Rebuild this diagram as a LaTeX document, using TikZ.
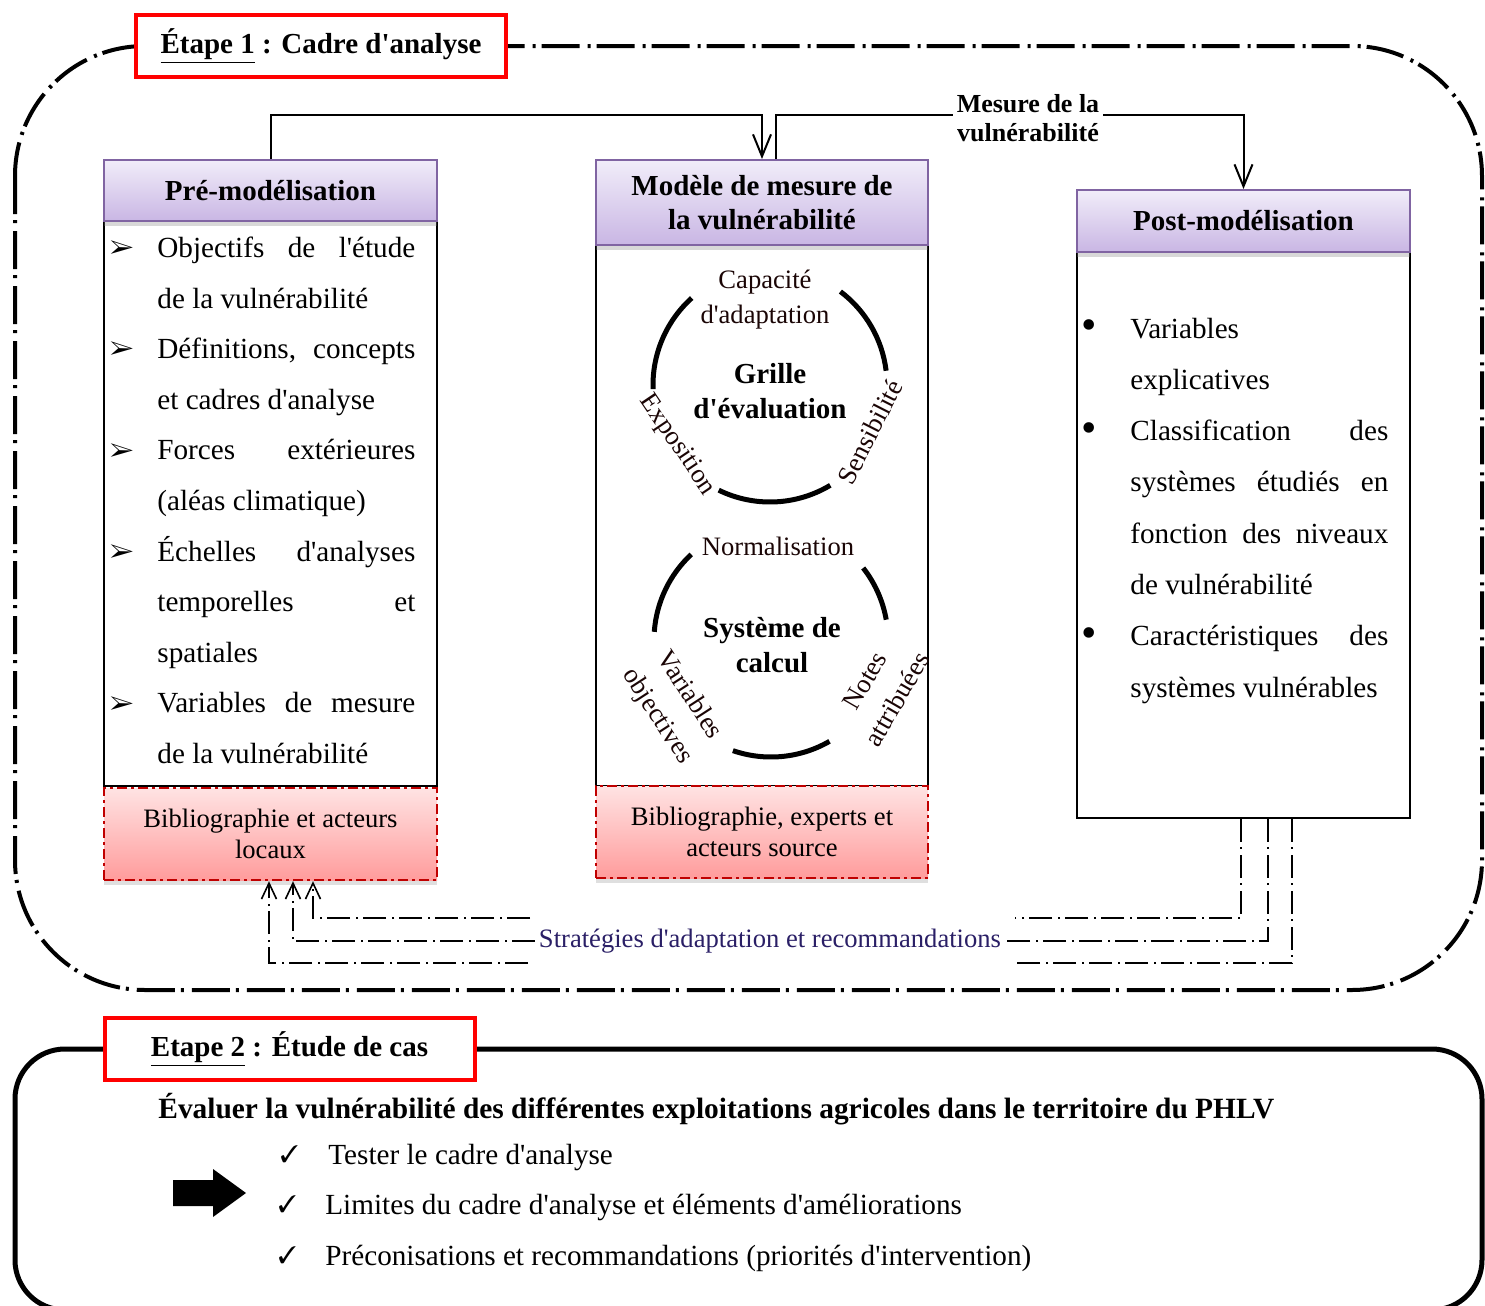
\documentclass[tikz,border=0pt]{standalone}
\usepackage{fontspec}
\setmainfont{Liberation Serif}[Ligatures=TeXOff]
\usepackage{pifont}
\usetikzlibrary{arrows.meta,calc,shadows}
\definecolor{hdtop}{HTML}{F1EDF9}
\definecolor{hdbot}{HTML}{C9B6E4}
\definecolor{hdborder}{HTML}{8064A2}
\definecolor{bibtop}{HTML}{FFE3E3}
\definecolor{bibbot}{HTML}{FF9C9C}
\definecolor{bibborder}{HTML}{C00000}
\definecolor{lbltxt}{HTML}{1A0505}
\definecolor{stratc}{HTML}{2A1F66}
\begin{document}
\begin{tikzpicture}[x=0.5pt,y=0.5pt,
  frameone/.style={line width=2pt, dash pattern=on 19pt off 3pt on 1.5pt off 4pt, rounded corners=65pt},
  frametwo/.style={line width=2.5pt, rounded corners=25pt},
  redlbl/.style={draw=red, line width=2pt, fill=white, inner sep=0pt, minimum width=185pt, minimum height=31pt, font=\bfseries\fontsize{14.5}{17}\selectfont},
  bodybox/.style={draw=black, line width=1pt, inner sep=0pt, fill=white},
  hdr/.style={draw=hdborder, line width=1pt, top color=hdtop, bottom color=hdbot, inner sep=0pt, align=center,
    font=\bfseries\fontsize{14.5}{17}\selectfont, drop shadow={shadow xshift=0pt, shadow yshift=-2.5pt, opacity=0.3}},
  bib/.style={draw=bibborder, line width=1.2pt, dash pattern=on 5pt off 2pt on 1.5pt off 2pt, top color=bibtop, bottom color=bibbot,
    inner sep=0pt, align=center, font=\fontsize{13.3}{15.5}\selectfont, drop shadow={shadow xshift=0pt, shadow yshift=-2.5pt, opacity=0.25}},
  conn/.style={line width=1pt, -{Straight Barb[length=11pt,width=9pt,line width=1pt]}},
  circarc/.style={line width=2.5pt},
  clbl/.style={text=lbltxt, align=center, inner sep=0pt, font=\fontsize{13.3}{17.5}\selectfont},
  cttl/.style={align=center, inner sep=0pt, font=\bfseries\fontsize{14.5}{17.5}\selectfont},
  fb/.style={line width=0.8pt, dash pattern=on 11.5pt off 2.5pt on 1pt off 3pt},
  fbarrow/.style={-{Straight Barb[length=8pt,width=7.5pt,line width=0.8pt]}},
  lst/.style={anchor=base west, inner sep=0pt, font=\fontsize{14.6}{17}\selectfont},
  arrowglyph/.style={anchor=center, inner sep=0pt, font=\fontsize{13}{14}\selectfont},
  bulletglyph/.style={anchor=center, inner sep=0pt, font=\fontsize{22}{24}\selectfont},
  checkglyph/.style={anchor=base west, inner sep=0pt, font=\fontsize{12}{14}\selectfont}
]
\useasboundingbox (0,0) rectangle (1485,-1306);

% ---------- Etape 1 frame ----------
\draw[frameone] (15,-46) rectangle (1482,-990);
\node[redlbl] (e1) at (321,-46) {\underline{Étape 1} : Cadre d'analyse};

% ---------- boxes ----------
\node[bodybox, minimum width=166.5pt, minimum height=282.5pt] (preb) at (270.5,-503.5) {};
\node[hdr, minimum width=166.5pt, minimum height=30.5pt] (pre) at (270.5,-190.5) {Pré-modélisation};
\node[bib, minimum width=166.5pt, minimum height=46pt] (bib1) at (270.5,-834) {Bibliographie et acteurs\\locaux};

\node[bodybox, minimum width=166pt, minimum height=270.5pt] (modb) at (762,-515.5) {};
\node[hdr, minimum width=166pt, minimum height=42.5pt] (mod) at (762,-202.5) {Modèle de mesure de\\la vulnérabilité};
\node[bib, minimum width=166pt, minimum height=46pt] (bib2) at (762,-832) {Bibliographie, experts et\\acteurs source};

\node[bodybox, minimum width=166.5pt, minimum height=283pt] (postb) at (1243.5,-535) {};
\node[hdr, minimum width=166.5pt, minimum height=31pt] (post) at (1243.5,-221) {Post-modélisation};

% ---------- top connectors ----------
\draw[conn] (pre.north) -- ++(0,44) -| (mod.north);
\draw[conn] ($(mod.north)+(14,0)$) -- ++(0,44) -| (post.north);
\node[fill=white, align=center, inner sep=2pt, font=\bfseries\fontsize{13}{14.5}\selectfont] (mes) at (1028,-118) {Mesure de la\\vulnérabilité};

% ---------- left list ----------
\node[arrowglyph] (a1) at (122,-249) {\ding{226}};
\node[lst] (p1) at (157,-257.5) {\makebox[129pt][s]{Objectifs de l'étude}};
\node[lst] (p2) at (157,-308.1) {de la vulnérabilité};
\node[arrowglyph] (a2) at (122,-350.2) {\ding{226}};
\node[lst] (p3) at (157,-358.7) {\makebox[129pt][s]{Définitions, concepts}};
\node[lst] (p4) at (157,-409.3) {et cadres d'analyse};
\node[arrowglyph] (a3) at (122,-451.4) {\ding{226}};
\node[lst] (p5) at (157,-459.9) {\makebox[129pt][s]{Forces extérieures}};
\node[lst] (p6) at (157,-510.5) {(aléas climatique)};
\node[arrowglyph] (a4) at (122,-552.6) {\ding{226}};
\node[lst] (p7) at (157,-561.1) {\makebox[129pt][s]{Échelles d'analyses}};
\node[lst] (p8) at (157,-611.7) {\makebox[129pt][s]{temporelles et}};
\node[lst] (p9) at (157,-662.3) {spatiales};
\node[arrowglyph] (a5) at (122,-704.4) {\ding{226}};
\node[lst] (p10) at (157,-712.9) {\makebox[129pt][s]{Variables de mesure}};
\node[lst] (p11) at (157,-763.5) {de la vulnérabilité};

% ---------- right list ----------
\node[bulletglyph] (b1) at (1089,-330) {•};
\node[lst] (q1) at (1130,-338) {Variables};
\node[lst] (q2) at (1130,-389.3) {explicatives};
\node[bulletglyph] (b2) at (1089,-432.6) {•};
\node[lst] (q3) at (1130,-440.6) {\makebox[129pt][s]{Classification des}};
\node[lst] (q4) at (1130,-491.9) {\makebox[129pt][s]{systèmes étudiés en}};
\node[lst] (q5) at (1130,-543.2) {\makebox[129pt][s]{fonction des niveaux}};
\node[lst] (q6) at (1130,-594.5) {de vulnérabilité};
\node[bulletglyph] (b3) at (1089,-637.8) {•};
\node[lst] (q7) at (1130,-645.8) {\makebox[129pt][s]{Caractéristiques des}};
\node[lst] (q8) at (1130,-697.1) {systèmes vulnérables};

% ---------- circle 1 ----------
\draw[circarc] (770,-385) ++(132:117) arc[start angle=132, end angle=182, radius=117];
\draw[circarc] (770,-385) ++(7:117) arc[start angle=7, end angle=53, radius=117];
\draw[circarc] (770,-385) ++(244:117) arc[start angle=244, end angle=301, radius=117];
\node[clbl] (cap) at (765,-300) {Capacité\\d'adaptation};
\node[clbl, rotate=-56] (expo) at (677,-445) {Exposition};
\node[clbl, rotate=63] (sens) at (870,-432) {Sensibilité};
\node[cttl] (grille) at (770,-391) {Grille\\d'évaluation};

% ---------- circle 2 ----------
\draw[circarc] (771,-640) ++(133:117) arc[start angle=133, end angle=176, radius=117];
\draw[circarc] (771,-640) ++(10:117) arc[start angle=10, end angle=38, radius=117];
\draw[circarc] (771,-640) ++(251:117) arc[start angle=251, end angle=300, radius=117];
\node[clbl] (norm) at (778,-546) {Normalisation};
\node[clbl, rotate=-57, font=\fontsize{13.3}{19}\selectfont] (varo) at (673,-706) {Variables\\objectives};
\node[clbl, rotate=60, font=\fontsize{13.3}{18.5}\selectfont] (notes) at (881,-690) {Notes\\attribuées};
\node[cttl] (syst) at (772,-645) {Système de\\calcul};

% ---------- feedback lines ----------
\node[text=stratc, inner sep=2pt, font=\fontsize{13.3}{15.5}\selectfont] (strat) at (770,-941) {Stratégies d'adaptation et recommandations};
\coordinate (f1r) at (1015,-918);
\coordinate (f1l) at (530,-918);
\coordinate (f3r) at (1015,-963);
\coordinate (f3l) at (528,-963);
\draw[fb] ($(postb.south)+(-2.5,0)$) |- (f1r);
\draw[fb, fbarrow] (f1l) -| ($(bib1.south)+(42.5,0)$);
\draw[fb] ($(postb.south)+(24.5,0)$) |- (strat.east);
\draw[fb, fbarrow] (strat.west) -| ($(bib1.south)+(22.5,0)$);
\draw[fb] ($(postb.south)+(48.5,0)$) |- (f3r);
\draw[fb, fbarrow] (f3l) -| ($(bib1.south)+(-1.5,0)$);

% ---------- Etape 2 ----------
\draw[frametwo] (15,-1049) rectangle (1482,-1310);
\node[redlbl] (e2) at (289.5,-1049) {\underline{Etape 2} : Étude de cas};
\node[anchor=base west, inner sep=0pt, font=\bfseries\fontsize{14.7}{17}\selectfont] (evh) at (158,-1118) {Évaluer la vulnérabilité des différentes exploitations agricoles dans le territoire du PHLV};
\node[checkglyph] (c1) at (280,-1162) {\ding{51}};
\node[lst] (t1) at (328,-1164) {Tester le cadre d'analyse};
\node[checkglyph] (c2) at (278,-1212) {\ding{51}};
\node[lst] (t2) at (325,-1214) {Limites du cadre d'analyse et éléments d'améliorations};
\node[checkglyph] (c3) at (278,-1263) {\ding{51}};
\node[lst] (t3) at (325,-1265) {Préconisations et recommandations (priorités d'intervention)};
\fill (173,-1180) -- (213,-1180) -- (213,-1169) -- (246,-1193) -- (213,-1217) -- (213,-1206) -- (173,-1206) -- cycle;
\end{tikzpicture}
\end{document}
